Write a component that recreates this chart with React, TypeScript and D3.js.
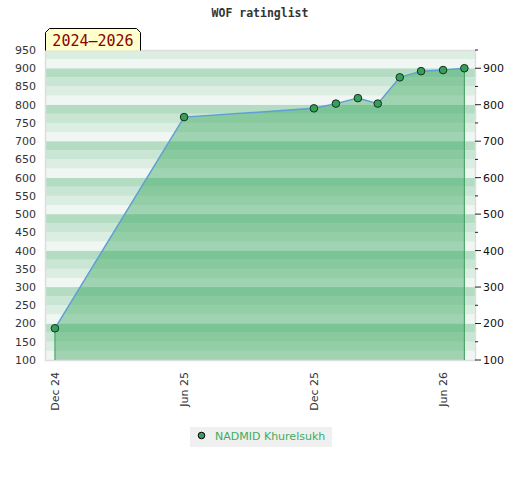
import React from 'react';
import * as d3 from 'd3';

// rating history
const dates = [
  '2024-12-01', '2025-06-01', '2025-12-01', '2026-01-01', '2026-02-01',
  '2026-03-01', '2026-04-01', '2026-05-01', '2026-06-01', '2026-07-01'
];
const ratings = [187, 766, 790, 803, 818, 803, 875, 892, 895, 900];

const xTickDates = ['2024-12-01', '2025-06-01', '2025-12-01', '2026-06-01'];
const leftTicks = d3.range(100, 951, 50);
const rightTicks = d3.range(100, 901, 100);
const minorRightTicks = d3.range(150, 951, 100);

const playerName = 'NADMID Khurelsukh';
const periodLabel = '2024–2026';
const chartTitle = 'WOF ratinglist';

const stripeColors = ['#f0f6f2', '#dcede2', '#c8e6d3', '#b3dcc3'];

const App: React.FC = () => {
  const svgRef = React.useRef<SVGSVGElement>(null);
  const width = 520;
  const height = 480;

  React.useEffect(() => {
    if (!svgRef.current) return;
    const svg = d3.select(svgRef.current);
    svg.selectAll('*').remove();

    const margin = { top: 50, right: 45, bottom: 120, left: 45 };
    const x0 = margin.left;
    const x1 = width - margin.right;
    const y0 = height - margin.bottom;
    const y1 = margin.top;

    const parse = d3.utcParse('%Y-%m-%d');
    const data = dates.map((d, i) => ({ date: parse(d) as Date, value: ratings[i] }));

    const xScale = d3.scaleUtc()
      .domain([parse('2024-11-17') as Date, parse('2026-07-16') as Date])
      .range([x0, x1]);

    const yScale = d3.scaleLinear()
      .domain([100, 950])
      .range([y0, y1]);

    // striped background
    const bands = d3.range(100, 950, 25);
    svg.append('g')
      .selectAll('rect')
      .data(bands)
      .enter().append('rect')
      .attr('x', x0)
      .attr('width', x1 - x0)
      .attr('y', d => yScale(d + 25))
      .attr('height', d => yScale(d) - yScale(d + 25))
      .attr('fill', d => stripeColors[Math.floor(d / 25) % 4]);

    // area under the rating line
    const area = d3.area<{ date: Date; value: number }>()
      .x(d => xScale(d.date))
      .y0(y0)
      .y1(d => yScale(d.value));

    svg.append('path')
      .datum(data)
      .attr('fill', 'rgba(39,160,80,0.4)')
      .attr('d', area);

    // plot frame
    svg.append('rect')
      .attr('x', x0 + 0.5)
      .attr('y', y1 + 0.5)
      .attr('width', x1 - x0)
      .attr('height', y0 - y1)
      .attr('fill', 'none')
      .attr('stroke', '#dddddd')
      .attr('stroke-width', 1.5);

    // vertical edges of the area
    const first = data[0];
    const last = data[data.length - 1];
    [first, last].forEach(d => {
      svg.append('line')
        .attr('x1', xScale(d.date))
        .attr('x2', xScale(d.date))
        .attr('y1', yScale(d.value))
        .attr('y2', y0)
        .attr('stroke', '#3a9a5a')
        .attr('stroke-width', 1);
    });

    const line = d3.line<{ date: Date; value: number }>()
      .x(d => xScale(d.date))
      .y(d => yScale(d.value));

    svg.append('path')
      .datum(data)
      .attr('fill', 'none')
      .attr('stroke', '#5f9fd6')
      .attr('stroke-width', 1.5)
      .attr('d', line);

    svg.selectAll('.dot')
      .data(data)
      .enter().append('circle')
      .attr('class', 'dot')
      .attr('cx', d => xScale(d.date))
      .attr('cy', d => yScale(d.value))
      .attr('r', 3.8)
      .attr('fill', '#34a05a')
      .attr('stroke', '#1b2e20')
      .attr('stroke-width', 1);

    const font = 'DejaVu Sans, sans-serif';

    // left axis labels
    svg.append('g')
      .selectAll('text')
      .data(leftTicks)
      .enter().append('text')
      .attr('x', 36)
      .attr('y', d => yScale(d))
      .attr('dy', '0.36em')
      .attr('text-anchor', 'end')
      .attr('font-family', font)
      .attr('font-size', '11px')
      .attr('fill', '#333')
      .text(d => d);

    // right axis
    const right = svg.append('g');
    right.selectAll('.major')
      .data(rightTicks)
      .enter().append('line')
      .attr('x1', x1)
      .attr('x2', x1 + 6)
      .attr('y1', d => yScale(d))
      .attr('y2', d => yScale(d))
      .attr('stroke', '#222')
      .attr('stroke-width', 1);
    right.selectAll('.minor')
      .data(minorRightTicks)
      .enter().append('line')
      .attr('x1', x1)
      .attr('x2', x1 + 3)
      .attr('y1', d => yScale(d))
      .attr('y2', d => yScale(d))
      .attr('stroke', '#222')
      .attr('stroke-width', 1);
    right.selectAll('text')
      .data(rightTicks)
      .enter().append('text')
      .attr('x', x1 + 8)
      .attr('y', d => yScale(d))
      .attr('dy', '0.36em')
      .attr('font-family', font)
      .attr('font-size', '11px')
      .attr('fill', '#111')
      .text(d => d);

    // x axis labels (rotated)
    const fmt = d3.utcFormat('%b %y');
    svg.append('g')
      .selectAll('text')
      .data(xTickDates.map(d => parse(d) as Date))
      .enter().append('text')
      .attr('transform', d => `translate(${xScale(d) + 4},${y0 + 12}) rotate(-90)`)
      .attr('text-anchor', 'end')
      .attr('font-family', font)
      .attr('font-size', '11px')
      .attr('fill', '#333')
      .text(d => fmt(d));

    // title
    svg.append('text')
      .attr('x', width / 2)
      .attr('y', 17)
      .attr('text-anchor', 'middle')
      .attr('font-family', 'DejaVu Sans Mono, monospace')
      .attr('font-weight', 'bold')
      .attr('font-size', '11.5px')
      .attr('fill', '#333')
      .text(chartTitle);

    // period tag
    const bx0 = 45.5, bx1 = 140.5, by0 = 28.5, by1 = 50.5, c = 4;
    svg.append('path')
      .attr('d', `M${bx0},${by1} L${bx0},${by0 + c} L${bx0 + c},${by0} L${bx1 - c},${by0} L${bx1},${by0 + c} L${bx1},${by1}`)
      .attr('fill', '#ffffcc')
      .attr('stroke', '#000')
      .attr('stroke-width', 1);
    svg.append('text')
      .attr('x', (bx0 + bx1) / 2)
      .attr('y', 45.5)
      .attr('text-anchor', 'middle')
      .attr('font-family', 'DejaVu Sans Mono, monospace')
      .attr('font-size', '15px')
      .attr('fill', '#8b0000')
      .text(periodLabel);

    // legend
    const legend = svg.append('g');
    legend.append('rect')
      .attr('x', 190)
      .attr('y', 427)
      .attr('width', 142)
      .attr('height', 20)
      .attr('fill', '#f0f0f0');
    legend.append('circle')
      .attr('cx', 201.5)
      .attr('cy', 435.5)
      .attr('r', 3.3)
      .attr('fill', '#34a05a')
      .attr('stroke', '#000')
      .attr('stroke-width', 1);
    legend.append('text')
      .attr('x', 215)
      .attr('y', 440)
      .attr('font-family', font)
      .attr('font-size', '11px')
      .attr('fill', '#3cad60')
      .text(playerName);
  }, []);

  return (
    <div style={{ position: 'absolute', left: 0, top: 0 }}>
      <svg ref={svgRef} width={width} height={height} style={{ display: 'block', background: '#fff' }} />
    </div>
  );
};

export default App;
